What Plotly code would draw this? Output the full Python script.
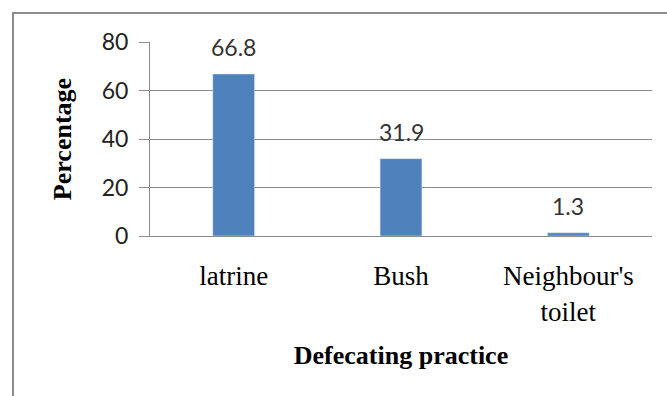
import plotly.graph_objects as go

categories = ["latrine", "Bush", "Neighbour's<br>toilet"]
values = [66.8, 31.9, 1.3]
value_labels = ["66.8", "31.9", "1.3"]
y_ticks = [0, 20, 40, 60, 80]

L, R, T, B = 150, 15, 42, 160
W, H = 667, 396
pw, ph = W - L - R, H - T - B

fig = go.Figure()
fig.add_trace(go.Bar(x=categories, y=values, marker_color="#4F81BD", width=0.25,
                     hoverinfo="skip"))

for c, v, t in zip(categories, values, value_labels):
    fig.add_annotation(x=c, y=v, text=t, showarrow=False, yanchor="middle", yshift=27,
                       font=dict(family="Lato", size=23, color="#333333"))

def px_x(p):
    return (p - L) / pw

def px_y(p):
    return (H - B - p) / ph

fig.add_shape(type="rect", xref="paper", yref="paper",
              x0=px_x(13), x1=px_x(720), y0=px_y(440), y1=px_y(13),
              line=dict(color="#8c8c8c", width=2), fillcolor="rgba(0,0,0,0)", layer="below")

fig.update_layout(
    width=W, height=H,
    margin=dict(l=L, r=R, t=T, b=B),
    paper_bgcolor="white", plot_bgcolor="white",
    showlegend=False,
    bargap=0.75,
    xaxis=dict(
        showline=True, linecolor="#8c8c8c", linewidth=1,
        showgrid=False, ticks="",
        tickfont=dict(family="Liberation Serif", size=27, color="black"),
        ticklabelstandoff=16,
        title=dict(text="<b>Defecating practice</b>",
                   font=dict(family="Liberation Serif", size=26, color="black"),
                   standoff=20),
    ),
    yaxis=dict(
        range=[0, 80], tickvals=y_ticks,
        showline=True, linecolor="#8c8c8c", linewidth=1,
        showgrid=True, gridcolor="#8c8c8c", gridwidth=1,
        zeroline=False,
        ticks="outside", ticklen=10, tickcolor="#8c8c8c",
        ticklabelstandoff=6,
        tickfont=dict(family="Lato", size=23, color="#222222"),
        title=dict(text="<b>Percentage</b>",
                   font=dict(family="Liberation Serif", size=26, color="black"),
                   standoff=22),
    ),
)

fig.write_html("out.html", config={"displayModeBar": False},
               post_script="document.body.style.margin='0';")
